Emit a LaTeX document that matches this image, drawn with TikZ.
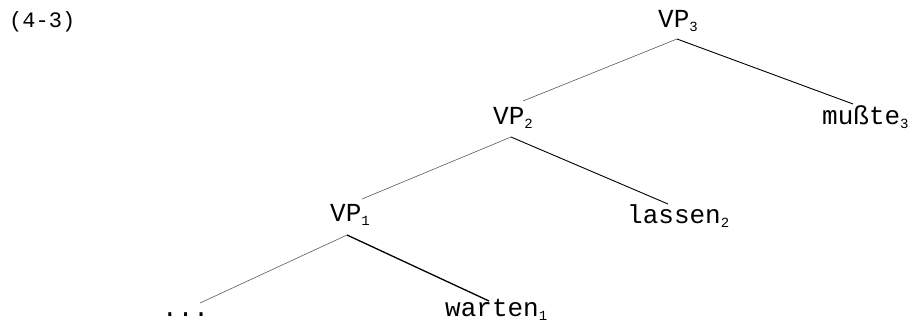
\documentclass[tikz,border=0pt]{standalone}
\usepackage{fontspec}
\newfontfamily\tw{Liberation Mono}
\newcommand\lsub[1]{\raisebox{-4pt}{\fontsize{14}{14}\selectfont #1}}
\begin{document}
\begin{tikzpicture}[x=1pt,y=-1pt,
  lbl/.style={inner sep=0pt, anchor=base west, font=\tw\fontsize{26}{30}\selectfont},
  lbranch/.style={draw=black!65, line width=0.6pt},
  rbranch/.style={draw=black, line width=0.9pt}]
\useasboundingbox (0,0) rectangle (915,323);
% nodes
\node[lbl] (ex) at (9,28) {\fontsize{22}{24}\selectfont(4-3)};
\node[lbl] (vp3) at (658,28) {VP\lsub{3}};
\node[lbl] (vp2) at (493,125) {VP\lsub{2}};
\node[lbl] (vp1) at (330,222) {VP\lsub{1}};
\node[lbl] (muss) at (822,125) {mußte\lsub{3}};
\node[lbl] (lassen) at (627,223) {lassen\lsub{2}};
\node[lbl] (warten) at (445,316) {warten\lsub{1}};
\node[lbl] (dots) at (162,316) {...};
% connector ends
\coordinate (a3) at (677,39);
\coordinate (b2) at (523,101);
\coordinate (c3) at (853,104);
\coordinate (a2) at (511,137);
\coordinate (b1) at (362,199);
\coordinate (c2) at (668,204);
\coordinate (a1) at (347,235);
\coordinate (d1) at (200,303);
\coordinate (w1) at (489,301);
% branches
\draw[lbranch] (a3) -- (b2);
\draw[rbranch] (a3) -- (c3);
\draw[lbranch] (a2) -- (b1);
\draw[rbranch] (a2) -- (c2);
\draw[lbranch] (a1) -- (d1);
\draw[rbranch, line width=1.3pt] (a1) -- (w1);
\end{tikzpicture}
\end{document}
